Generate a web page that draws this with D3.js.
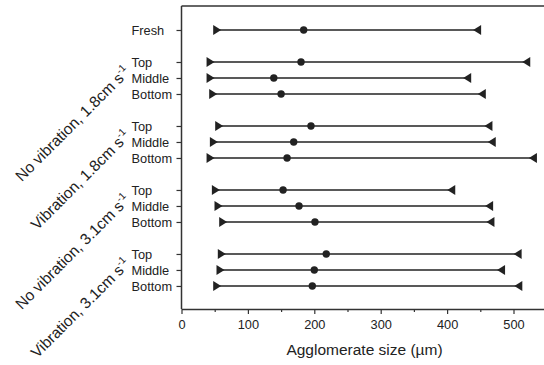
<!DOCTYPE html>
<html lang="en">
<head>
<meta charset="utf-8">
<title>Agglomerate size</title>
<script src="https://cdn.jsdelivr.net/npm/d3@7/dist/d3.min.js"></script>
<style>
 body { margin: 0; background: #fff; }
 text { font-family: "Liberation Sans", Arial, sans-serif; fill: #222; }
</style>
</head>
<body>
<script>
 // data (µm)
 var groups = ["No vibration, 1.8cm s", "Vibration, 1.8cm s", "No vibration, 3.1cm s", "Vibration, 3.1cm s"];
 var rowNames = ["Top", "Middle", "Bottom"];
 var freshVals = {min: 53, median: 184, max: 446};
 var minVals = [43, 43, 47, 56, 48, 43, 51, 55, 62, 60, 58, 53];
 var medianVals = [180, 139, 150, 195, 169, 159, 153, 177, 201, 218, 200, 197];
 var maxVals = [520, 431, 453, 463, 468, 530, 407, 464, 466, 507, 482, 508];
 var xTicks = [0, 100, 200, 300, 400, 500];
 var xMinor = [50, 150, 250, 350, 450, 550];

 var W = 544, H = 365;
 var mLeft = 181.5, mTop = 6, mBottom = 309;

 // build rows: fresh in slot 0, then each group takes 3 slots + 1 gap
 var rows = [{label: "Fresh", slot: 0, min: freshVals.min, median: freshVals.median, max: freshVals.max}];
 groups.forEach(function (g, gi) {
     rowNames.forEach(function (r, ri) {
	 var k = gi * 3 + ri;
	 rows.push({label: r, slot: 2 + gi * 4 + ri, min: minVals[k], median: medianVals[k], max: maxVals[k]});
     });
 });

 var svg = d3.select("body").append("svg")
	     .attr("width", W)
	     .attr("height", H);

 var x = d3.scaleLinear().domain([0, 550]).range([mLeft, mLeft + 550 * 0.664]);
 var y = d3.scaleLinear().domain([-1.5, 17.44]).range([mTop, mBottom]);

 // frame: top line + left axis
 svg.append("line")
    .attr("x1", mLeft).attr("x2", W + 5)
    .attr("y1", mTop).attr("y2", mTop)
    .attr("stroke", "#333").attr("stroke-width", 1.5);

 var yAxis = svg.append("g")
		.attr("transform", "translate(" + mLeft + ",0)")
		.call(d3.axisLeft(y)
			.tickValues(rows.map(function (d) { return d.slot; }))
			.tickFormat(function (s) { return rows.find(function (d) { return d.slot === s; }).label; })
			.tickSize(5).tickSizeOuter(0));
 yAxis.select(".domain").attr("stroke", "#333").attr("stroke-width", 1.5)
      .attr("d", "M0," + mTop + "V" + mBottom);
 yAxis.selectAll(".tick line").attr("stroke", "#333").attr("stroke-width", 1.2);
 yAxis.selectAll(".tick text")
      .attr("x", -50).attr("text-anchor", "start")
      .style("font-size", "12.8px");

 // x axis
 var xAxis = svg.append("g")
		.attr("transform", "translate(0," + mBottom + ")")
		.call(d3.axisBottom(x).tickValues(xTicks).tickSize(5).tickSizeOuter(0).tickPadding(6));
 xAxis.select(".domain").attr("stroke", "#333").attr("stroke-width", 1.5);
 xAxis.selectAll(".tick line").attr("stroke", "#333").attr("stroke-width", 1.2);
 xAxis.selectAll(".tick text").style("font-size", "12.8px");

 svg.append("g")
    .attr("transform", "translate(0," + mBottom + ")")
    .call(d3.axisBottom(x).tickValues(xMinor).tickSize(3).tickFormat(""))
    .call(function (g) {
	g.select(".domain").remove();
	g.selectAll(".tick line").attr("stroke", "#333").attr("stroke-width", 1.2);
    });

 svg.append("text")
    .attr("x", 364.5).attr("y", 355)
    .attr("text-anchor", "middle")
    .style("font-size", "15.5px")
    .text("Agglomerate size (µm)");

 // rotated group labels
 groups.forEach(function (g, gi) {
     var mid = y(2 + gi * 4 + 1);
     var t = svg.append("text")
		.attr("transform", "translate(" + 131 + "," + (mid - 5) + ") rotate(-45)")
		.attr("text-anchor", "end")
		.style("font-size", "15.5px");
     t.append("tspan").text(g);
     t.append("tspan").attr("dy", -6.5).style("font-size", "10px").text("-1");
 });

 // range lines
 var marks = svg.append("g");
 marks.selectAll("line.range")
      .data(rows).enter().append("line")
      .attr("class", "range")
      .attr("x1", function (d) { return x(d.min); })
      .attr("x2", function (d) { return x(d.max); })
      .attr("y1", function (d) { return y(d.slot); })
      .attr("y2", function (d) { return y(d.slot); })
      .attr("stroke", "#222").attr("stroke-width", 1.4);

 // min: right-pointing triangle, max: left-pointing triangle
 marks.selectAll("path.min")
      .data(rows).enter().append("path")
      .attr("class", "min")
      .attr("d", "M-3.5,-5L4.5,0L-3.5,5Z")
      .attr("transform", function (d) { return "translate(" + x(d.min) + "," + y(d.slot) + ")"; })
      .attr("fill", "#222");
 marks.selectAll("path.max")
      .data(rows).enter().append("path")
      .attr("class", "max")
      .attr("d", "M3.5,-5L-4.5,0L3.5,5Z")
      .attr("transform", function (d) { return "translate(" + x(d.max) + "," + y(d.slot) + ")"; })
      .attr("fill", "#222");
 marks.selectAll("circle")
      .data(rows).enter().append("circle")
      .attr("cx", function (d) { return x(d.median); })
      .attr("cy", function (d) { return y(d.slot); })
      .attr("r", 3.7)
      .attr("fill", "#222");
</script>
</body>
</html>
